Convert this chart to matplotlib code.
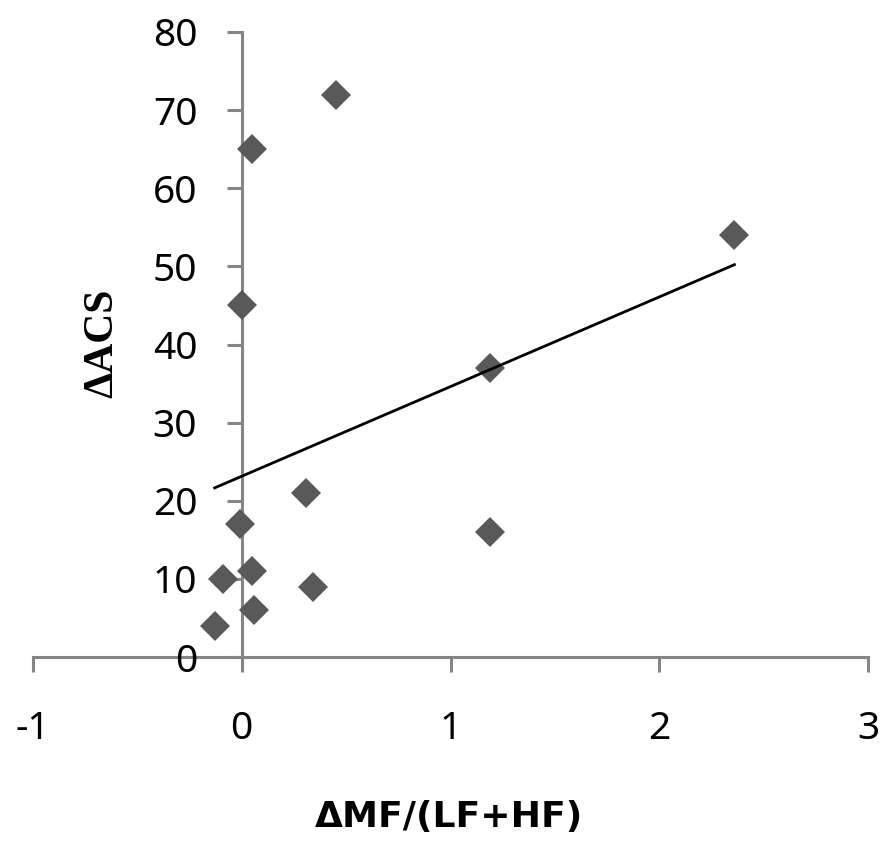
import numpy as np
import matplotlib
matplotlib.use("Agg")
import matplotlib.pyplot as plt

# values
mf_ratio = [0.45, 0.05, 0.00, 2.36, 1.19, 0.31, 1.19, -0.01, -0.09, 0.05, 0.34, 0.06, -0.13]
acs = [72, 65, 45, 54, 37, 21, 16, 17, 10, 11, 9, 6, 4]
x_ticks = [-1, 0, 1, 2, 3]
y_ticks = [0, 10, 20, 30, 40, 50, 60, 70, 80]

axis_grey = '#868686'

fig = plt.figure(figsize=(8.92, 8.49), dpi=100)
ax = fig.add_axes([33 / 892, 1 - 657 / 849, 835 / 892, 625 / 849])

ax.plot(mf_ratio, acs, linestyle='none', marker='D', markersize=15.5,
        color='#595959', markeredgewidth=0, zorder=3)

# linear trend line over the data range
slope, icpt = np.polyfit(mf_ratio, acs, 1)
xs = np.array([min(mf_ratio), max(mf_ratio)])
ax.plot(xs, slope * xs + icpt, color='black', linewidth=2.0, zorder=4)

ax.set_xlim(-1, 3)
ax.set_ylim(0, 80)
ax.set_xticks(x_ticks)
ax.set_yticks(y_ticks)
ax.set_xticklabels([str(v) for v in x_ticks])

for side in ['top', 'right']:
    ax.spines[side].set_visible(False)
ax.spines['left'].set_position(('data', 0))
ax.spines['bottom'].set_position(('data', 0))
for side in ['left', 'bottom']:
    ax.spines[side].set_color(axis_grey)
    ax.spines[side].set_linewidth(2.2)
    ax.spines[side].set_zorder(1)

ax.tick_params(axis='both', direction='out', length=11, width=2.2, color=axis_grey,
               labelsize=28)
ax.tick_params(axis='x', pad=27)
ax.tick_params(axis='y', pad=21)
for lbl in ax.get_xticklabels() + ax.get_yticklabels():
    lbl.set_family('Noto Sans')

fig.text(449 / 892, 1 - 817 / 849, 'ΔMF/(LF+HF)', ha='center', va='center',
         fontsize=26, fontweight='bold', family='DejaVu Sans')
fig.text(102 / 892, 1 - 343 / 849, 'ΔACS', ha='center', va='center', rotation=90,
         fontsize=30, fontweight='bold', family='Liberation Serif')

fig.savefig('out.png', dpi=100, facecolor='white')
